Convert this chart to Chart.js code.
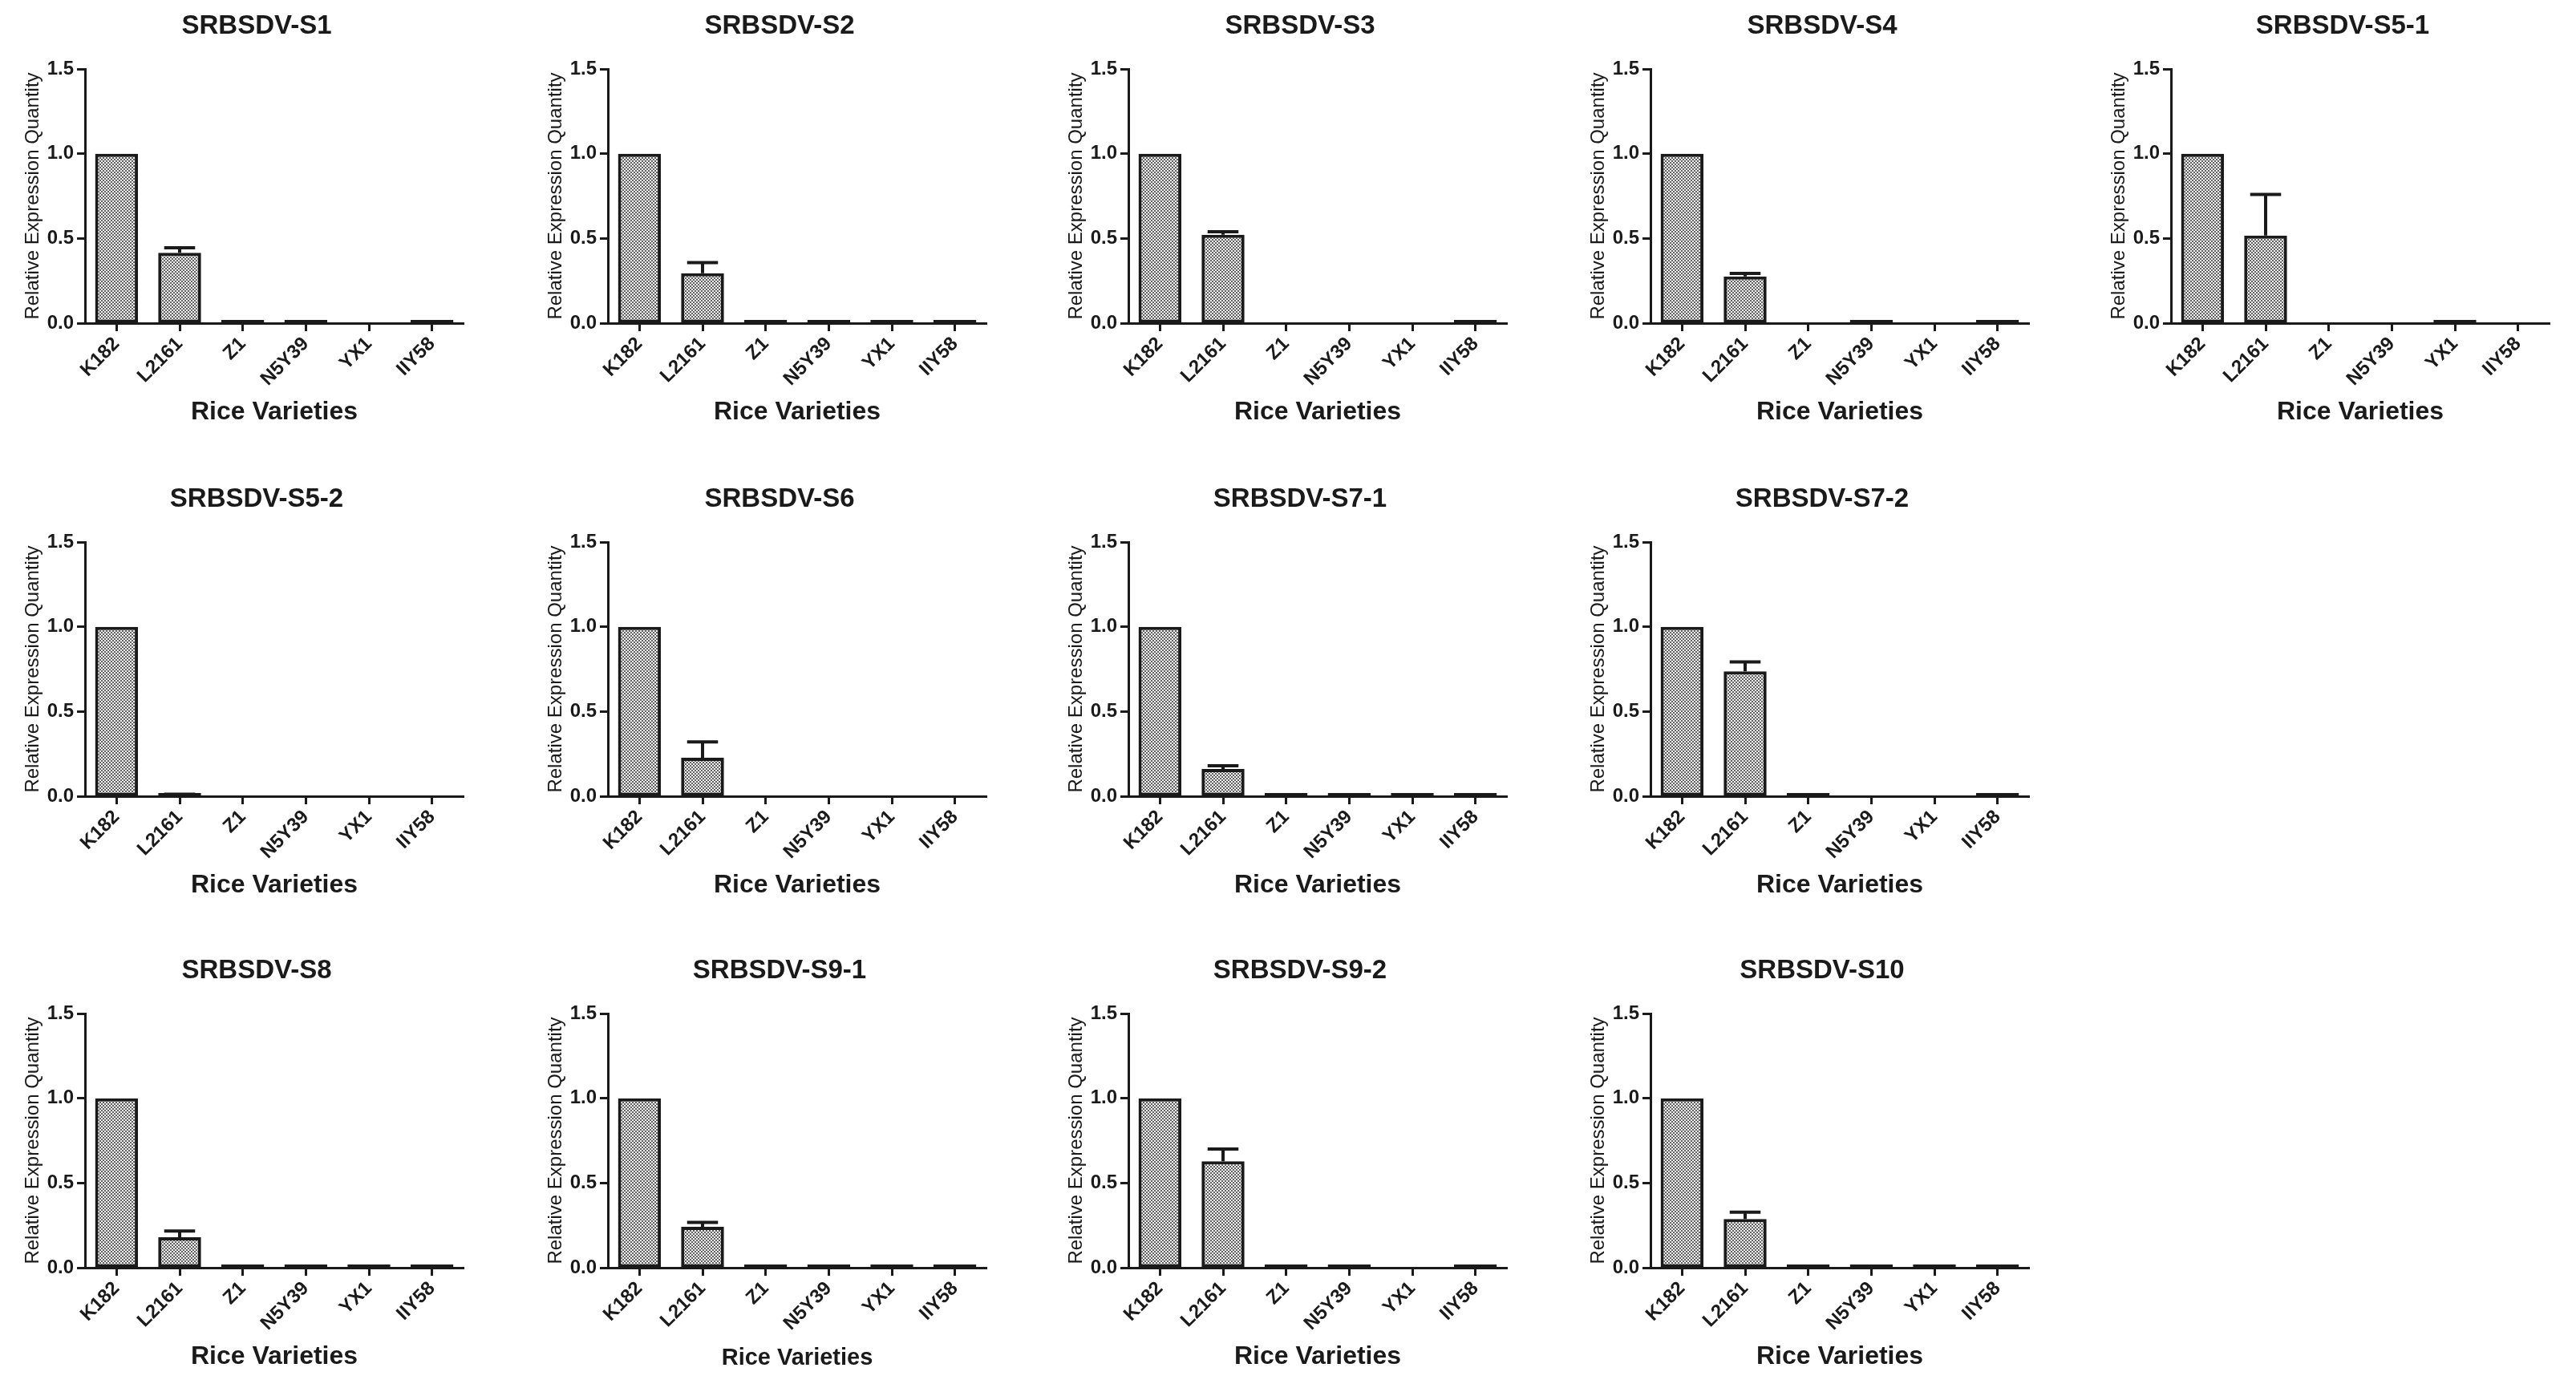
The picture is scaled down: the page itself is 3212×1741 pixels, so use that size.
<!DOCTYPE html>
<html>
<head>
<meta charset="utf-8">
<script src="https://cdn.jsdelivr.net/npm/chart.js@4.4.1/dist/chart.umd.min.js"></script>
<style>
  html, body { margin: 0; padding: 0; background: #fff; }
  #wrap { position: relative; width: 3212px; height: 1741px; overflow: hidden; background: #fff; }
  #wrap canvas { position: absolute; }
</style>
</head>
<body>
<div id="wrap"></div>
<script>
// rice varieties on every x axis
const varieties = ['K182', 'L2161', 'Z1', 'N5Y39', 'YX1', 'IIY58'];

// one panel per genome segment
const panelTitles = ['SRBSDV-S1', 'SRBSDV-S2', 'SRBSDV-S3', 'SRBSDV-S4', 'SRBSDV-S5-1',
  'SRBSDV-S5-2', 'SRBSDV-S6', 'SRBSDV-S7-1', 'SRBSDV-S7-2',
  'SRBSDV-S8', 'SRBSDV-S9-1', 'SRBSDV-S9-2', 'SRBSDV-S10'];

// relative expression per variety, one entry per panel (same order as panelTitles)
const k182  = [1, 1, 1, 1, 1, 1, 1, 1, 1, 1, 1, 1, 1];
const l2161 = [0.415, 0.295, 0.522, 0.276, 0.517, 0.008, 0.227, 0.161, 0.737, 0.180, 0.241, 0.628, 0.288];
const z1    = [0.002, 0.003, 0, 0, 0, 0, 0, 0.008, 0.004, 0.003, 0.003, 0.008, 0.005];
const n5y39 = [0.005, 0.003, 0, 0.004, 0, 0, 0, 0.005, 0, 0.003, 0.004, 0.005, 0.004];
const yx1   = [0, 0.005, 0, 0, 0.003, 0, 0, 0.005, 0, 0.002, 0.003, 0, 0.005];
const iiy58 = [0.005, 0.010, 0.004, 0.003, 0, 0, 0, 0.012, 0.004, 0.003, 0.006, 0.004, 0.008];

// upper error bar (SD) of L2161, the only visible ones
const l2161Err = [0.030, 0.062, 0.018, 0.017, 0.243, 0.004, 0.094, 0.019, 0.056, 0.036, 0.026, 0.072, 0.040];

const yTicks = [0, 0.5, 1.0, 1.5];

// grid of panels: [col, row]
const panelCells = [[0,0],[1,0],[2,0],[3,0],[4,0],[0,1],[1,1],[2,1],[3,1],[0,2],[1,2],[2,2],[3,2]];
const colLeft = [0, 652, 1301, 1952, 2601];
const rowTop = [0, 590, 1178];

const ink = '#1a1a1a';
Chart.defaults.font.family = '"Liberation Sans", Arial, Helvetica, sans-serif';
Chart.defaults.color = ink;

// fine checker fill like the scanned GraphPad bars
function makePattern() {
  const c = document.createElement('canvas');
  c.width = 4; c.height = 4;
  const g = c.getContext('2d');
  g.fillStyle = '#f2f2f2';
  g.fillRect(0, 0, 4, 4);
  g.fillStyle = '#606060';
  g.fillRect(0, 0, 2, 2);
  g.fillRect(2, 2, 2, 2);
  return g.createPattern(c, 'repeat');
}
const fill = makePattern();

const errorBars = {
  id: 'errorBars',
  afterDatasetsDraw(chart) {
    const ds = chart.data.datasets[0];
    const meta = chart.getDatasetMeta(0);
    const ys = chart.scales.y;
    const ctx = chart.ctx;
    ctx.save();
    ctx.strokeStyle = ink;
    ctx.lineWidth = 4;
    meta.data.forEach((bar, i) => {
      const e = ds.errors[i];
      if (!e) return;
      const top = ys.getPixelForValue(ds.data[i] + e);
      const half = bar.width * 0.36;
      ctx.beginPath();
      ctx.moveTo(bar.x, bar.y);
      ctx.lineTo(bar.x, top);
      ctx.moveTo(bar.x - half, top);
      ctx.lineTo(bar.x + half, top);
      ctx.stroke();
    });
    ctx.restore();
  }
};

const wrap = document.getElementById('wrap');

panelTitles.forEach((title, p) => {
  const [col, row] = panelCells[p];
  const canvas = document.createElement('canvas');
  canvas.width = 640;
  canvas.height = 560;
  canvas.style.left = colLeft[col] + 'px';
  canvas.style.top = rowTop[row] + 'px';
  canvas.style.width = '640px';
  canvas.style.height = '560px';
  wrap.appendChild(canvas);

  const values = [k182[p], l2161[p], z1[p], n5y39[p], yx1[p], iiy58[p]];
  const errors = [0, l2161Err[p], 0, 0, 0, 0];

  new Chart(canvas, {
    type: 'bar',
    data: {
      labels: varieties,
      datasets: [{
        data: values,
        errors: errors,
        // a value of exactly 0 leaves no mark, tiny values show as a flat black bar
        backgroundColor: c => c.raw === 0 ? 'rgba(0,0,0,0)' : fill,
        borderColor: ink,
        borderWidth: c => c.raw === 0 ? 0 : 4,
        borderSkipped: false,
        minBarLength: 4,
        barPercentage: 0.68,
        categoryPercentage: 1
      }]
    },
    options: {
      responsive: false,
      animation: false,
      devicePixelRatio: 1,
      layout: { padding: 0 },
      plugins: {
        legend: { display: false },
        tooltip: { enabled: false },
        title: {
          display: true,
          text: title,
          font: { size: 33, weight: 'bold' },
          color: ink,
          padding: { top: 13, bottom: 33.4 }
        }
      },
      scales: {
        x: {
          ticks: {
            autoSkip: false,
            maxRotation: 45,
            minRotation: 45,
            padding: 2,
            font: { size: 24, weight: 'bold' },
            color: ink
          },
          grid: { offset: false, drawOnChartArea: false, tickLength: 10, tickWidth: 3, tickColor: ink },
          border: { display: true, width: 3, color: ink },
          title: {
            display: true,
            text: 'Rice Varieties',
            font: { size: p === 10 ? 29 : 32, weight: 'bold' },
            color: ink,
            padding: { top: 0, bottom: 27 }
          },
          afterFit: s => { s.height = 157; }
        },
        y: {
          min: 0,
          max: 1.5,
          afterBuildTicks: s => { s.ticks = yTicks.map(v => ({ value: v })); },
          ticks: {
            padding: 4,
            callback: v => Number(v).toFixed(1),
            font: { size: 24, weight: 'bold' },
            color: ink
          },
          grid: { drawOnChartArea: false, tickLength: 10, tickWidth: 3, tickColor: ink },
          border: { display: true, width: 3, color: ink },
          title: {
            display: true,
            text: 'Relative Expression Quantity',
            font: { size: 24 },
            color: ink,
            padding: { top: 27, bottom: 0 }
          },
          afterFit: s => { s.width = 106; }
        },
        // empty right-hand strip so the title centres like the original figure
        spacer: {
          type: 'linear',
          position: 'right',
          ticks: { display: false },
          grid: { display: false },
          border: { display: false },
          afterFit: s => { s.width = 62; }
        }
      }
    },
    plugins: [errorBars]
  });
});
</script>
</body>
</html>
